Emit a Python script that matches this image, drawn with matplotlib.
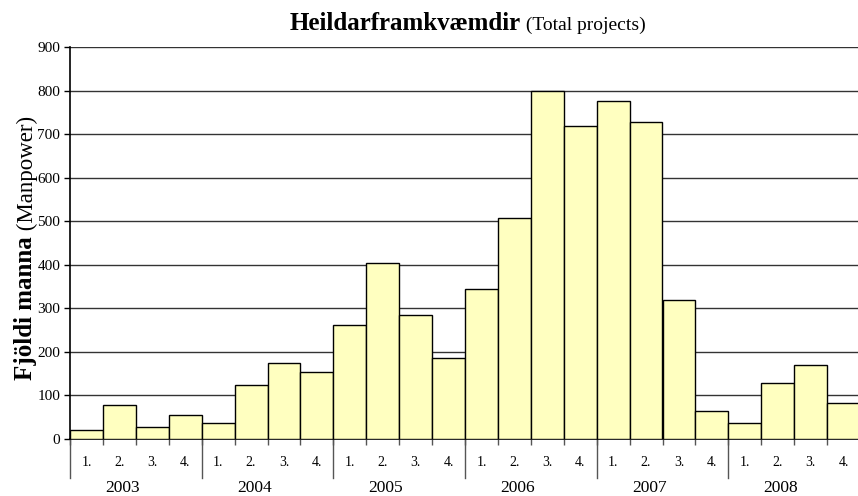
import matplotlib
matplotlib.use("Agg")
import matplotlib.pyplot as plt
import matplotlib.transforms as mtransforms

years = ["2003", "2004", "2005", "2006", "2007", "2008"]
quarters = ["1.", "2.", "3.", "4."]
manpower = [20, 77, 28, 54,
            37, 124, 175, 153,
            261, 403, 285, 185,
            345, 507, 800, 718,
            777, 728, 319, 64,
            37, 128, 171, 82]

plt.rcParams["font.family"] = ["Liberation Serif", "DejaVu Serif"]

W, H = 858, 496
fig = plt.figure(figsize=(W / 100, H / 100), dpi=100)
ax = fig.add_axes([70 / W, 1 - 439 / H, 790 / W, 392 / H])

n = len(manpower)
xs = [i + 0.5 for i in range(n)]
ax.bar(xs, manpower, width=1.0, color="#FFFFC0", edgecolor="black", linewidth=1.0, zorder=3)

ax.set_xlim(0, n)
ax.set_ylim(0, 900)
ax.set_yticks(range(0, 901, 100))
ax.yaxis.grid(True, color="#333333", linewidth=1.0, zorder=0)
ax.tick_params(axis="y", direction="out", length=4, width=1, labelsize=11, pad=3)
for s in ["top", "right"]:
    ax.spines[s].set_visible(False)
ax.spines["left"].set_linewidth(1.2)
ax.spines["bottom"].set_linewidth(1.2)

ax.set_xticks(range(0, n + 1))
ax.set_xticklabels([])
ax.tick_params(axis="x", direction="out", length=4, width=1, color="#555555")

trans = mtransforms.blended_transform_factory(ax.transData, ax.transAxes)
for i, x in enumerate(xs):
    ax.text(x, -0.059, quarters[i % 4], transform=trans, ha="center", va="center", fontsize=10)

for k, yr in enumerate(years):
    x0 = k * 4
    ax.plot([x0, x0], [0, -0.1], transform=trans, color="#555555", lw=1.0, clip_on=False)
    ax.text(x0 + 2 - 0.4, -0.124, yr, transform=trans, ha="center", va="center", fontsize=12.5)

# title in two pieces
t1 = fig.text(290 / W, 1 - 30 / H, "Heildarframkvæmdir", fontsize=18, fontweight="bold", ha="left", va="baseline")
t2 = fig.text(0, 1 - 30 / H, " (Total projects)", fontsize=14, ha="left", va="baseline")
# y label in two pieces
y1 = fig.text(14 / W, 1 - 380 / H, "Fjöldi manna", fontsize=18, fontweight="bold", rotation=90, ha="left", va="bottom")
y2 = fig.text(0, 0, " (Manpower)", fontsize=16.5, rotation=90, ha="left", va="bottom")

fig.canvas.draw()
r = fig.canvas.get_renderer()
bb1 = t1.get_window_extent(r)
t2.set_x(bb1.x1 / W)
bby = y1.get_window_extent(r)
y2.set_y(bby.y1 / H)
y2.set_x((bby.x0 + 3) / W)

fig.savefig("out.png", dpi=100)
